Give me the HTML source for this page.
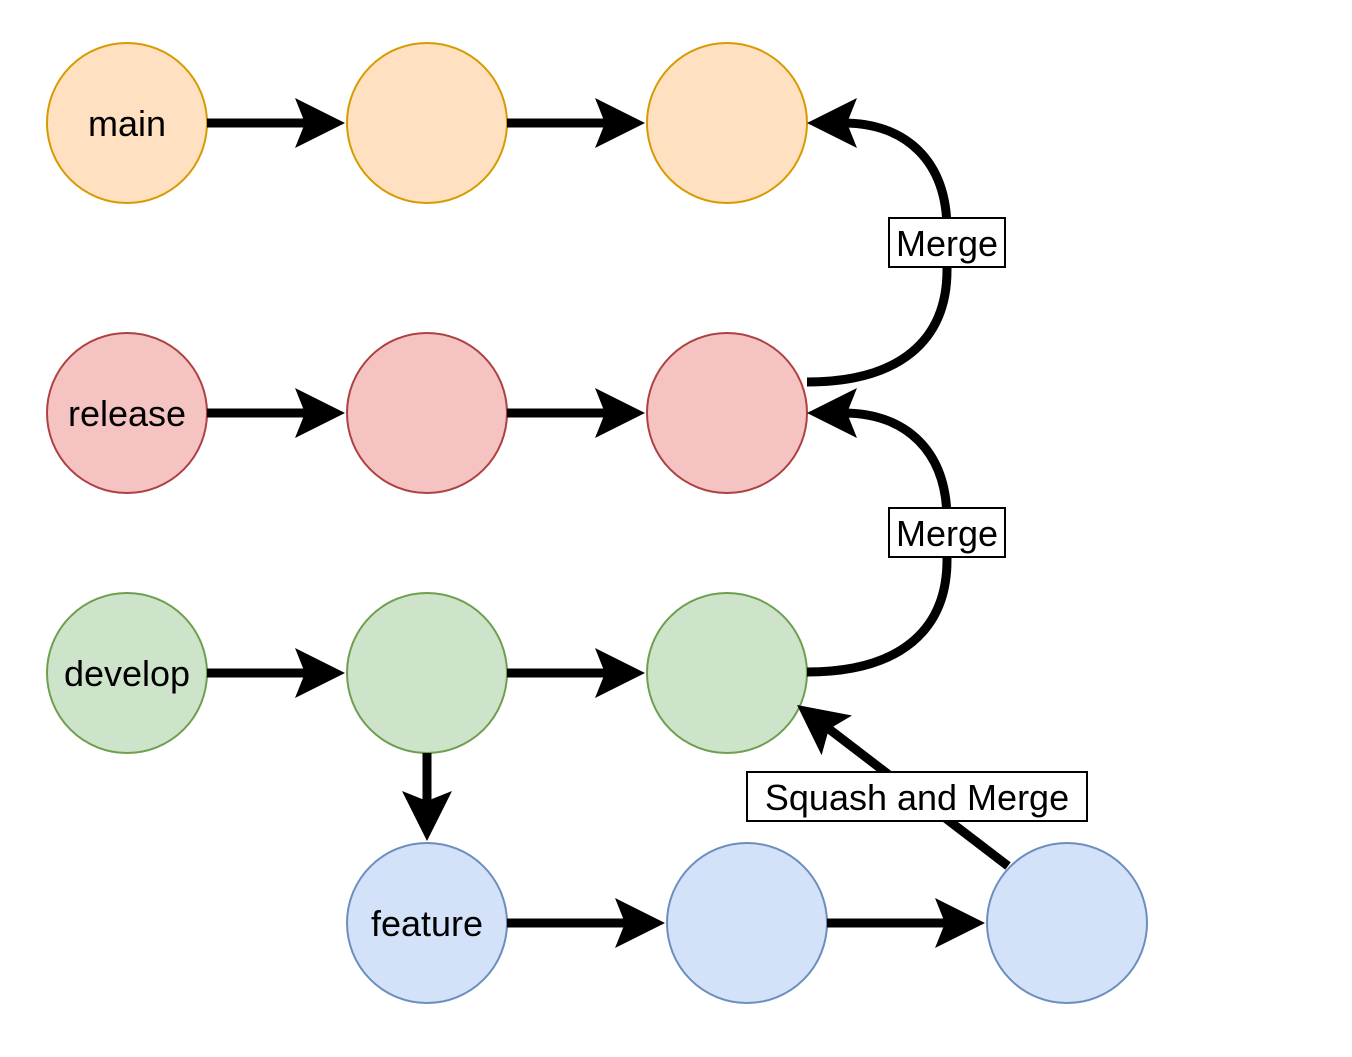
<!DOCTYPE html>
<html><head><style>html,body{margin:0;padding:0;background:#fff;}</style></head>
<body>
<svg width="1352" height="1052" viewBox="0 0 1352 1052" xmlns="http://www.w3.org/2000/svg" font-family="Liberation Sans, Arial, sans-serif">
<g stroke-width="2">
<circle cx="127" cy="123" r="80" fill="#ffe0c0" stroke="#d79b00"/>
<circle cx="427" cy="123" r="80" fill="#ffe0c0" stroke="#d79b00"/>
<circle cx="727" cy="123" r="80" fill="#ffe0c0" stroke="#d79b00"/>
<circle cx="127" cy="413" r="80" fill="#f5c3c2" stroke="#ae4141"/>
<circle cx="427" cy="413" r="80" fill="#f5c3c2" stroke="#ae4141"/>
<circle cx="727" cy="413" r="80" fill="#f5c3c2" stroke="#ae4141"/>
<circle cx="127" cy="673" r="80" fill="#cde4cb" stroke="#6e9f4f"/>
<circle cx="427" cy="673" r="80" fill="#cde4cb" stroke="#6e9f4f"/>
<circle cx="727" cy="673" r="80" fill="#cde4cb" stroke="#6e9f4f"/>
<circle cx="427" cy="923" r="80" fill="#d3e2f8" stroke="#6c8ebf"/>
<circle cx="747" cy="923" r="80" fill="#d3e2f8" stroke="#6c8ebf"/>
<circle cx="1067" cy="923" r="80" fill="#d3e2f8" stroke="#6c8ebf"/>
</g>
<g stroke="#000" stroke-width="9" fill="none">
<line x1="207" y1="123" x2="310" y2="123"/>
<line x1="507" y1="123" x2="610" y2="123"/>
<line x1="207" y1="413" x2="310" y2="413"/>
<line x1="507" y1="413" x2="610" y2="413"/>
<line x1="207" y1="673" x2="310" y2="673"/>
<line x1="507" y1="673" x2="610" y2="673"/>
<line x1="427" y1="753" x2="427" y2="806"/>
<line x1="507" y1="923" x2="630" y2="923"/>
<line x1="827" y1="923" x2="950" y2="923"/>
<path d="M807,382 C900,382 947,340 947,270 L947,230 C947,160 905,123 843,123"/>
<path d="M807,672 C900,672 947,630 947,560 L947,520 C947,450 905,413 843,413"/>
<line x1="1008" y1="866" x2="829" y2="729"/>
</g>
<g fill="#000">
<path d="M345,123 L295,98 L305,123 L295,148 Z"/>
<path d="M645,123 L595,98 L605,123 L595,148 Z"/>
<path d="M345,413 L295,388 L305,413 L295,438 Z"/>
<path d="M645,413 L595,388 L605,413 L595,438 Z"/>
<path d="M345,673 L295,648 L305,673 L295,698 Z"/>
<path d="M645,673 L595,648 L605,673 L595,698 Z"/>
<path d="M665,923 L615,898 L625,923 L615,948 Z"/>
<path d="M985,923 L935,898 L945,923 L935,948 Z"/>
<path d="M427,841 L402,791 L427,801 L452,791 Z"/>
<path d="M807,123 L857,98 L847,123 L857,148 Z"/>
<path d="M807,413 L857,388 L847,413 L857,438 Z"/>
<path d="M797,705 L852,715.5 L828.8,729.3 L821.6,755.3 Z"/>
</g>
<g fill="#fff" stroke="#000" stroke-width="2">
<rect x="889" y="218" width="116" height="49"/>
<rect x="889" y="508" width="116" height="49"/>
<rect x="747" y="772" width="340" height="49"/>
</g>
<g font-size="36" fill="#000" text-anchor="middle">
<text x="127" y="136">main</text>
<text x="127" y="426">release</text>
<text x="127" y="686">develop</text>
<text x="427" y="936">feature</text>
<text x="947" y="256">Merge</text>
<text x="947" y="546">Merge</text>
<text x="917" y="810">Squash and Merge</text>
</g>
</svg>
</body></html>
